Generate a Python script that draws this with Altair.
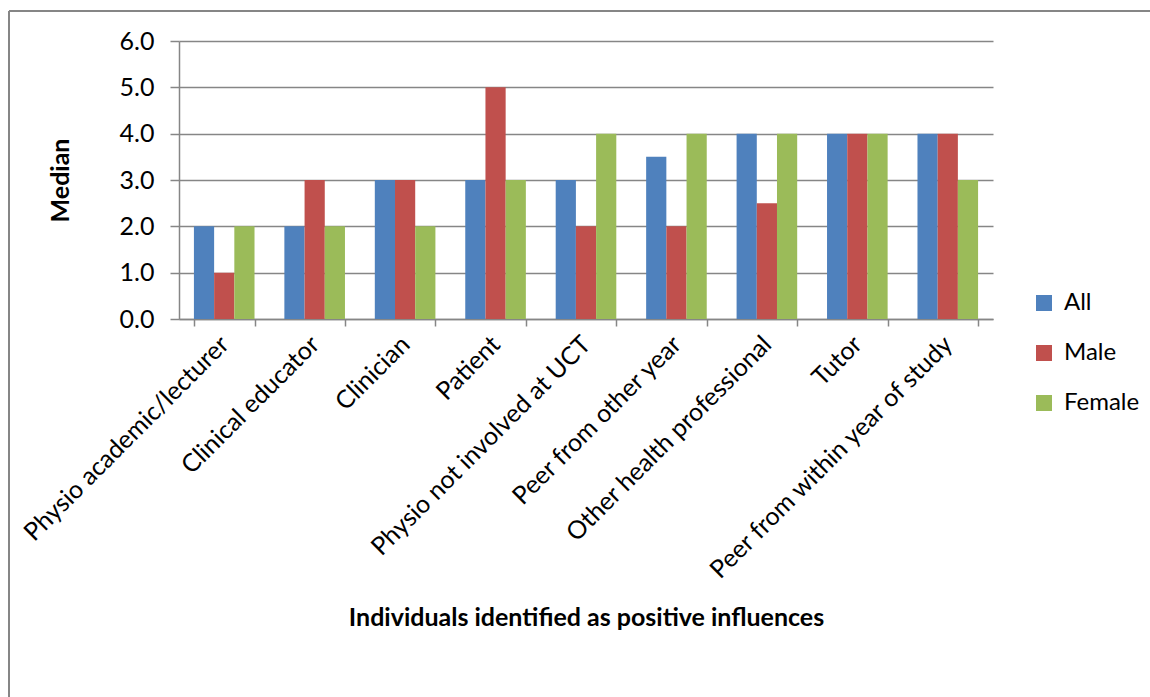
import altair as alt
import pandas as pd

categories = ["Physio academic/lecturer", "Clinical educator", "Clinician", "Patient",
              "Physio not involved at UCT", "Peer from other year",
              "Other health professional", "Tutor", "Peer from within year of study"]
series = ["All", "Male", "Female"]
all_vals = [2, 2, 3, 3, 3, 3.5, 4, 4, 4]
male_vals = [1, 3, 3, 5, 2, 2, 2.5, 4, 4]
female_vals = [2, 2, 2, 3, 4, 4, 4, 4, 3]
colors = ["#4F81BD", "#C0504D", "#9BBB59"]

rows = []
for i, c in enumerate(categories):
    for s, vals in zip(series, [all_vals, male_vals, female_vals]):
        rows.append({"cat": c, "series": s, "value": vals[i]})
df = pd.DataFrame(rows)

FONT = "Lato"
W, H = 814, 278

bars = alt.Chart(df).mark_bar(stroke=None).encode(
    x=alt.X("cat:N", sort=categories,
            scale=alt.Scale(paddingInner=0.33, paddingOuter=0.165),
            axis=alt.Axis(title="Individuals identified as positive influences",
                          labelAngle=-45, labelAlign="right", labelBaseline="middle",
                          labelFont=FONT, labelFontSize=25, labelColor="#000000",
                          labelPadding=14, labelLimit=500,
                          tickBand="extent", tickSize=7, tickColor="#868686", tickWidth=1.5,
                          domainColor="#868686", domainWidth=1.5,
                          titleFont=FONT, titleFontSize=25, titleFontWeight="bold",
                          titleColor="#000000", titleY=298, titleBaseline="middle")),
    xOffset=alt.XOffset("series:N", sort=series),
    y=alt.Y("value:Q", scale=alt.Scale(domain=[0, 6], nice=False),
            axis=alt.Axis(title="Median", values=[0, 1, 2, 3, 4, 5, 6], format=".1f",
                          labelFont=FONT, labelFontSize=25, labelColor="#000000",
                          labelPadding=16, tickSize=9, tickColor="#868686", tickWidth=1.5,
                          domainColor="#868686", domainWidth=1.5,
                          grid=True, gridColor="#868686", gridWidth=1.5,
                          titleFont=FONT, titleFontSize=25, titleFontWeight="bold",
                          titleColor="#000000", titleAngle=-90, titleX=-119, titleY=139,
                          titleBaseline="middle", titleAlign="center")),
    color=alt.Color("series:N", sort=series,
                    scale=alt.Scale(domain=series, range=colors),
                    legend=alt.Legend(title=None, orient="none", legendX=853, legendY=250,
                                      symbolType="square", symbolSize=256,
                                      symbolStrokeWidth=0, labelFont=FONT,
                                      labelFontSize=24, labelColor="#000000",
                                      rowPadding=26, labelOffset=8)),
)

frame = alt.Chart(pd.DataFrame({"a": [0]})).mark_rule(color="#868686", strokeWidth=2, clip=False)
top_rule = frame.encode(x=alt.value(-170), x2=alt.value(1000), y=alt.value(-30))
left_rule = frame.encode(x=alt.value(-170), y=alt.value(-30), y2=alt.value(700))

chart = alt.layer(top_rule, left_rule, bars).properties(
    width=W, height=H,
    padding={"left": 179, "top": 41, "right": 157, "bottom": 378},
    autosize=alt.AutoSizeParams(type="none"),
    background="#FFFFFF",
).configure_view(stroke=None)

chart.save("out.html", embed_options={"renderer": "svg", "actions": False})
